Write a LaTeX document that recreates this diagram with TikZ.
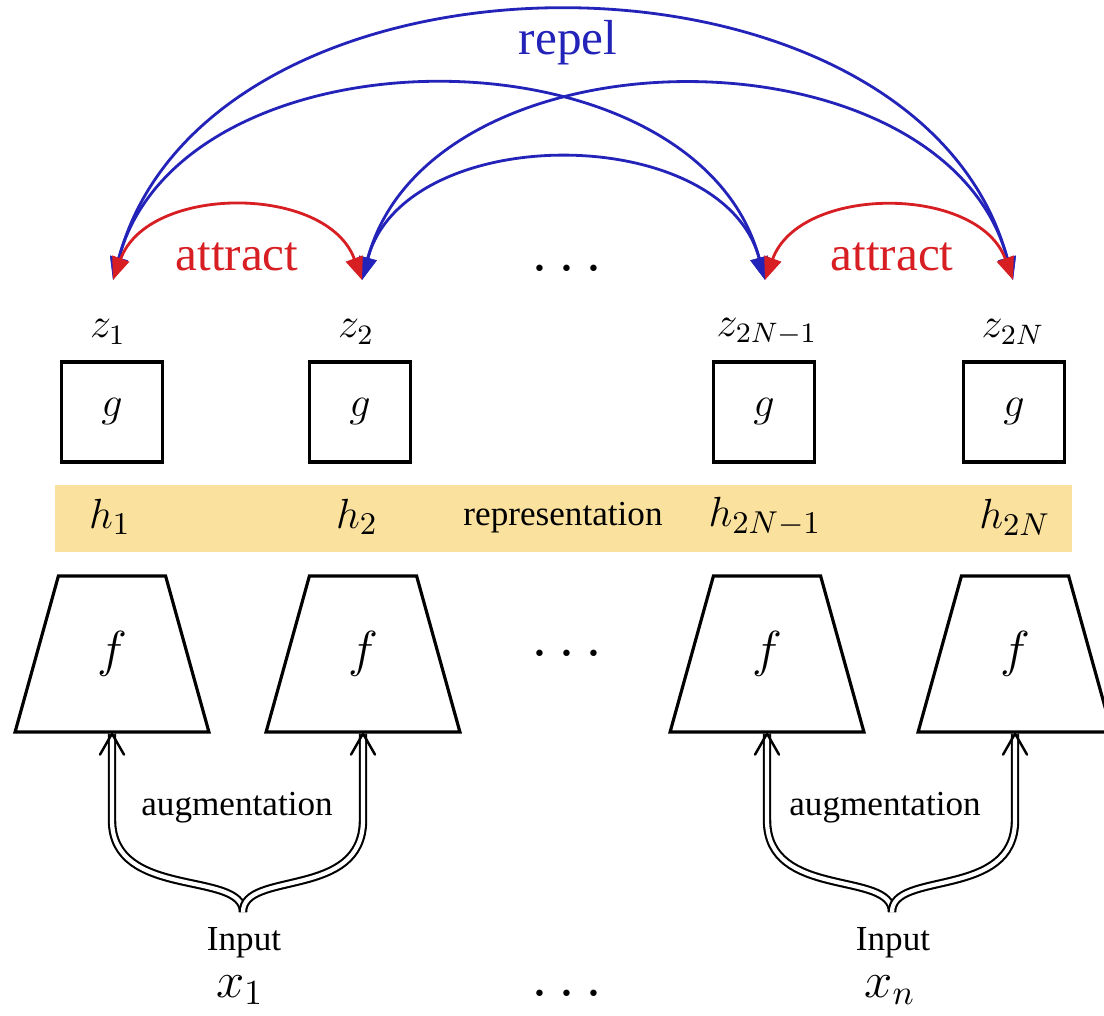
\documentclass[tikz,border=0pt]{standalone}
\usepackage{fontspec}
\setmainfont{Liberation Serif}
\usetikzlibrary{arrows.meta,shapes.geometric}
\definecolor{repelblue}{RGB}{35,35,185}
\definecolor{attractred}{RGB}{215,30,35}
\definecolor{reprband}{RGB}{250,225,158}
\begin{document}
\begin{tikzpicture}[
        gbox/.style={draw, line width=0.9pt, minimum width=1.01cm, minimum height=1.0cm, inner sep=0pt, font=\fontsize{13}{15}\selectfont},
        fnet/.style={draw, trapezium, trapezium stretches=true, trapezium angle=75, minimum width=1.94cm, minimum height=1.56cm, line width=0.9pt, inner sep=0pt, font=\fontsize{13.5}{15}\selectfont},
        zlab/.style={font=\fontsize{12}{14}\selectfont},
        hlab/.style={font=\fontsize{13}{15}\selectfont},
        xlab/.style={font=\fontsize{14}{16}\selectfont, inner sep=1pt},
        small/.style={font=\fontsize{10}{12}\selectfont},
        big/.style={font=\fontsize{14}{16}\selectfont},
        dots/.style={font=\fontsize{17}{19}\selectfont},
        repel/.style={draw=repelblue, line width=0.8pt, {Triangle[width=5pt,length=6.5pt]}-{Triangle[width=5pt,length=6.5pt]}},
        attract/.style={draw=attractred, line width=0.8pt, {Triangle[width=5pt,length=6.5pt]}-{Triangle[width=5pt,length=6.5pt]}},
        aug/.style={double, double distance=1.2pt, line width=0.6pt},
        augtip/.style={line width=0.7pt, line cap=round, line join=round}
    ]
            \useasboundingbox (0,0) rectangle (11.04,10.15);
            % representation band
            \fill [reprband] (0.55,4.63) rectangle (10.72,5.30);
            \node [small] (rep) at (5.63,4.97) {representation};
            \node [hlab] (h1) at (1.10,4.98) {$h_1$};
            \node [hlab] (h2) at (3.57,4.98) {$h_2$};
            \node [hlab] (h3) at (7.65,4.98) {$h_{2N-1}$};
            \node [hlab] (h4) at (10.15,4.98) {$h_{2N}$};
            % projection heads
            \node [gbox] (g1) at (1.12,6.03) {$g$};
            \node [gbox] (g2) at (3.60,6.03) {$g$};
            \node [gbox] (g3) at (7.64,6.03) {$g$};
            \node [gbox] (g4) at (10.14,6.03) {$g$};
            \node [zlab] (z1) at (1.08,6.83) {$z_1$};
            \node [zlab] (z2) at (3.56,6.83) {$z_2$};
            \node [zlab] (z3) at (7.67,6.83) {$z_{2N-1}$};
            \node [zlab] (z4) at (10.13,6.83) {$z_{2N}$};
            % encoders
            \node [fnet] (f1) at (1.12,3.61) {$f$};
            \node [fnet] (f2) at (3.63,3.61) {$f$};
            \node [fnet] (f3) at (7.67,3.61) {$f$};
            \node [fnet] (f4) at (10.15,3.61) {$f$};
            \node [dots] (dotsf) at (5.67,3.60) {$\cdots$};
            % arrow tips above z
            \coordinate (a1) at (1.13,7.35);
            \coordinate (a2) at (3.62,7.35);
            \coordinate (a3) at (7.65,7.35);
            \coordinate (a4) at (10.13,7.35);
            \node [dots] (dotsz) at (5.67,7.45) {$\cdots$};
            \draw [repel] (a1) to [bend left=75, looseness=1.05] (a4);
            \draw [repel] (a1) to [bend left=75, looseness=1.05] (a3);
            \draw [repel] (a2) to [bend left=75, looseness=1.05] (a4);
            \draw [repel] (a2) to [bend left=75, looseness=1.05] (a3);
            \node [big, text=repelblue] (rp) at (5.68,9.72) {repel};
            \draw [attract] (a1) to [bend left=70, looseness=1.05] (a2);
            \draw [attract] (a3) to [bend left=70, looseness=1.05] (a4);
            \node [big, text=attractred] (at1) at (2.37,7.58) {attract};
            \node [big, text=attractred] (at2) at (8.92,7.58) {attract};
            % inputs and augmentation
            \coordinate (j1) at (2.43,1.03);
            \coordinate (j2) at (8.92,1.03);
            \node [small, inner sep=1pt] (in1) at (2.44,0.72) {Input};
            \node [xlab] (x1) at (2.40,0.25) {$x_1$};
            \node [small, inner sep=1pt] (in2) at (8.93,0.72) {Input};
            \node [xlab] (x2) at (8.90,0.25) {$x_n$};
            \node [dots] (dotsx) at (5.67,0.20) {$\cdots$};
            \node [small] (au1) at (2.37,2.07) {augmentation};
            \node [small] (au2) at (8.85,2.07) {augmentation};
            \draw [aug] (j1) .. controls (2.43,1.45) and (1.12,1.15) .. (1.12,1.95) -- (f1.south);
            \draw [aug] (j1) .. controls (2.43,1.45) and (3.63,1.15) .. (3.63,1.95) -- (f2.south);
            \draw [aug] (j2) .. controls (8.92,1.45) and (7.67,1.15) .. (7.67,1.95) -- (f3.south);
            \draw [aug] (j2) .. controls (8.92,1.45) and (10.15,1.15) .. (10.15,1.95) -- (f4.south);
            \draw [augtip] (f1.south) ++(-0.12,-0.21) -- ++(0.12,0.21) -- ++(0.12,-0.21);
            \draw [augtip] (f2.south) ++(-0.12,-0.21) -- ++(0.12,0.21) -- ++(0.12,-0.21);
            \draw [augtip] (f3.south) ++(-0.12,-0.21) -- ++(0.12,0.21) -- ++(0.12,-0.21);
            \draw [augtip] (f4.south) ++(-0.12,-0.21) -- ++(0.12,0.21) -- ++(0.12,-0.21);
        \end{tikzpicture}
\end{document}
